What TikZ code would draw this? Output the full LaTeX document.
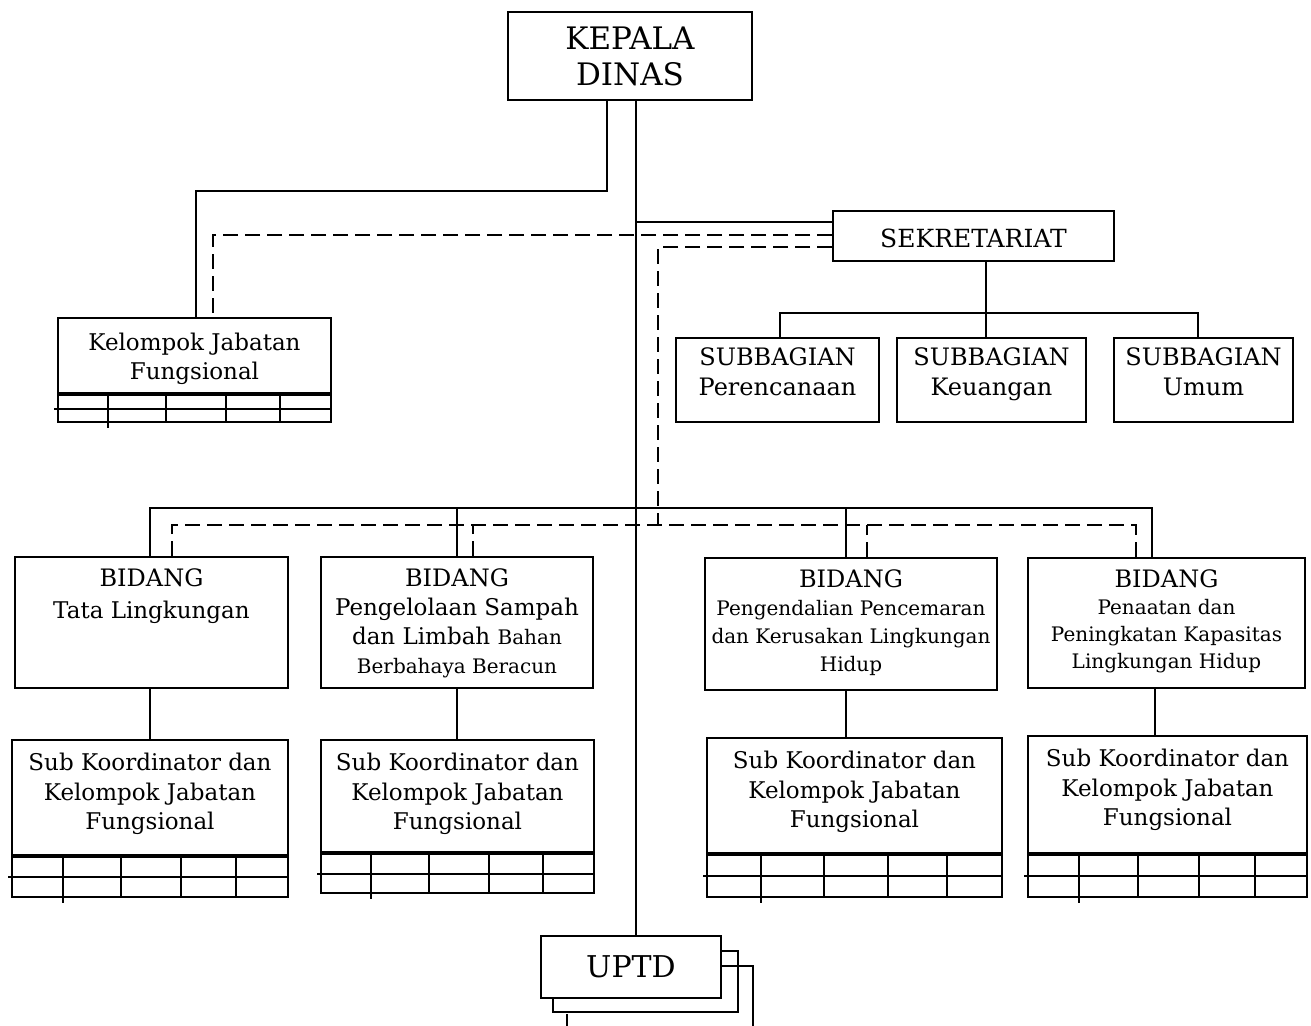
\documentclass[tikz,border=0pt]{standalone}
\usepackage{fontspec}
\setmainfont{DejaVu Serif}
\usetikzlibrary{positioning}
\usetikzlibrary{calc,fit}
\tikzstyle{box} = [draw,line width=1pt,inner sep=0pt,align=center]
\tikzstyle{txt} = [align=center,inner sep=0pt]
\tikzstyle{link} = [draw,line width=1pt]
\tikzstyle{dashlink} = [draw,line width=1pt,dash pattern=on 7.5pt off 3.5pt]

\newcommand{\jabgrid}[2]{%
  \draw[line width=1.6pt] ($(#1.south west)+(0,-2*#2)$) -- ($(#1.south east)+(0,-2*#2)$);
  \draw[line width=1pt] ($(#1.south west)+(-3,-#2)$) -- ($(#1.south east)+(0,-#2)$);
  \foreach \f in {0.186,0.396,0.613,0.81}
    \draw[line width=1pt] ($(#1.south west)!\f!(#1.south east)+(0,-2*#2)$) -- ($(#1.south west)!\f!(#1.south east)$);
  \draw[line width=1pt] ($(#1.south west)!0.186!(#1.south east)$) -- ++(0,5);
}

\begin{document}
\begin{tikzpicture}[x=0.5pt,y=-0.5pt]
\useasboundingbox (0,0) rectangle (1311,1025);

\node[box, fit={(508,12) (752,100)}] (kepala) {};
\node[txt, font=\fontsize{15.5}{18}\selectfont] (kepalat) at (kepala) {KEPALA\\DINAS};
\node[box, fit={(833,211) (1114,261)}] (sek) {};
\node[txt, font=\fontsize{12.5}{14}\selectfont] (sekt) at ([yshift=-1pt]sek.center) {SEKRETARIAT};
\node[box, fit={(541,936) (721,998)}] (uptd) {};
\node[txt, font=\fontsize{15}{17}\selectfont] (uptdt) at (uptd) {UPTD};
\coordinate (trunk) at (636,0);

% kelompok jabatan fungsional
\node[box, fit={(58,318) (331,422)}] (kjf) {};
\node[txt, below=8pt of kjf.north, font=\fontsize{11.5}{14.5}\selectfont] (kjft) {Kelompok Jabatan\\Fungsional};
\jabgrid{kjf}{14.5}

% subbagian
\node[box, fit={(676,338) (879,422)}] (sub1) {};
\node[box, fit={(897,338) (1086,422)}] (sub2) {};
\node[box, fit={(1114,338) (1293,422)}] (sub3) {};
\node[txt, below=5pt of sub1.north, font=\fontsize{12}{15}\selectfont] (sub1t) {SUBBAGIAN\\Perencanaan};
\node[txt, below=5pt of sub2.north, font=\fontsize{12}{15}\selectfont] (sub2t) {SUBBAGIAN\\Keuangan};
\node[txt, below=5pt of sub3.north, font=\fontsize{12}{15}\selectfont] (sub3t) {SUBBAGIAN\\Umum};

% bidang
\node[box, fit={(15,557) (288,688)}] (b1) {};
\node[box, fit={(321,557) (593,688)}] (b2) {};
\node[box, fit={(705,558) (997,690)}] (b3) {};
\node[box, fit={(1028,558) (1305,688)}] (b4) {};
\node[txt, below=6pt of b1.north, font=\fontsize{11.5}{16}\selectfont] (b1t)
  {{\fontsize{12}{14}\selectfont BIDANG}\\Tata Lingkungan};
\node[txt, below=6pt of b2.north, font=\fontsize{11.5}{14.5}\selectfont] (b2t)
  {{\fontsize{12}{14}\selectfont BIDANG}\\Pengelolaan Sampah\\dan Limbah {\fontsize{10}{12}\selectfont Bahan}\\{\fontsize{10}{12}\selectfont Berbahaya Beracun}};
\node[txt, below=6pt of b3.north, font=\fontsize{10}{14}\selectfont] (b3t)
  {{\fontsize{12}{14}\selectfont BIDANG}\\Pengendalian Pencemaran\\dan Kerusakan Lingkungan\\Hidup};
\node[txt, below=6pt of b4.north, font=\fontsize{10}{13.5}\selectfont] (b4t)
  {{\fontsize{12}{14}\selectfont BIDANG}\\Penaatan dan\\Peningkatan Kapasitas\\Lingkungan Hidup};

% sub koordinator
\node[box, fit={(12,740) (288,897)}] (sk1) {};
\node[box, fit={(321,740) (594,893)}] (sk2) {};
\node[box, fit={(707,738) (1002,897)}] (sk3) {};
\node[box, fit={(1028,736) (1307,897)}] (sk4) {};
\foreach \s in {sk1,sk2,sk3,sk4}
  \node[txt, below=7pt of \s.north, font=\fontsize{11.5}{14.75}\selectfont] (\s t) {Sub Koordinator dan\\Kelompok Jabatan\\Fungsional};
\jabgrid{sk1}{21}
\jabgrid{sk2}{20.5}
\jabgrid{sk3}{22}
\jabgrid{sk4}{22}

% garis komando
\draw[link] (kepala.south -| trunk) -- (uptd.north -| trunk);
\draw[link] ([xshift=-11.5pt]kepala.south) -- ++(0,90) -| ([xshift=0.75pt]kjf.north);
\draw[link] ([yshift=7pt]sek.west) -- ([yshift=7pt]sek.west -| trunk);
\draw[link] ([xshift=6.25pt]sek.south) -- ++(0,51) coordinate (sbar);
\draw[link] ([xshift=1.25pt]sub1.north) |- (sbar) -| ([xshift=-2.75pt]sub3.north);
\draw[link] (sbar) -- (sbar |- sub2.north);

\coordinate (bar) at (636,508);
\draw[link] ([xshift=-0.75pt]b1.north) |- (bar) -| ([xshift=-7.25pt]b4.north);
\draw[link] (b2.north) -- (b2.north |- bar);
\draw[link] ([xshift=-2.5pt]b3.north) -- ([xshift=-2.5pt]b3.north |- bar);
\draw[link] ([xshift=-0.75pt]b1.south) -- ([xshift=-0.75pt]b1.south |- sk1.north);
\draw[link] (b2.south) -- (b2.south |- sk2.north);
\draw[link] ([xshift=-2.5pt]b3.south) -- ([xshift=-2.5pt]b3.south |- sk3.north);
\draw[link] ([xshift=-5.75pt]b4.south) -- ([xshift=-5.75pt]b4.south |- sk4.north);

% garis koordinasi
\coordinate (dbar) at (658,525);
\draw[dashlink] ([yshift=0.5pt]sek.west) -| ([xshift=9.25pt]kjf.north);
\draw[dashlink] ([yshift=-5.5pt]sek.west) -| (dbar);
\draw[dashlink] ([xshift=10.25pt]b1.north) |- (dbar) -| ([xshift=-15.25pt]b4.north);
\draw[dashlink] ([xshift=8pt]b2.north) -- ([xshift=8pt]b2.north |- dbar);
\draw[dashlink] ([xshift=8pt]b3.north) -- ([xshift=8pt]b3.north |- dbar);

% uptd bertumpuk
\draw[link] ([yshift=-8pt]uptd.north east) -- ++(16,0) -- ++(0,61) -- ++(-185,0) -- ++(0,-15);
\draw[link] ([yshift=-15.5pt]uptd.north east) -- ++(31,0) -- ++(0,65);
\draw[link] ([xshift=13.5pt,yshift=-7.5pt]uptd.south west) -- ++(0,20);
\end{tikzpicture}
\end{document}
